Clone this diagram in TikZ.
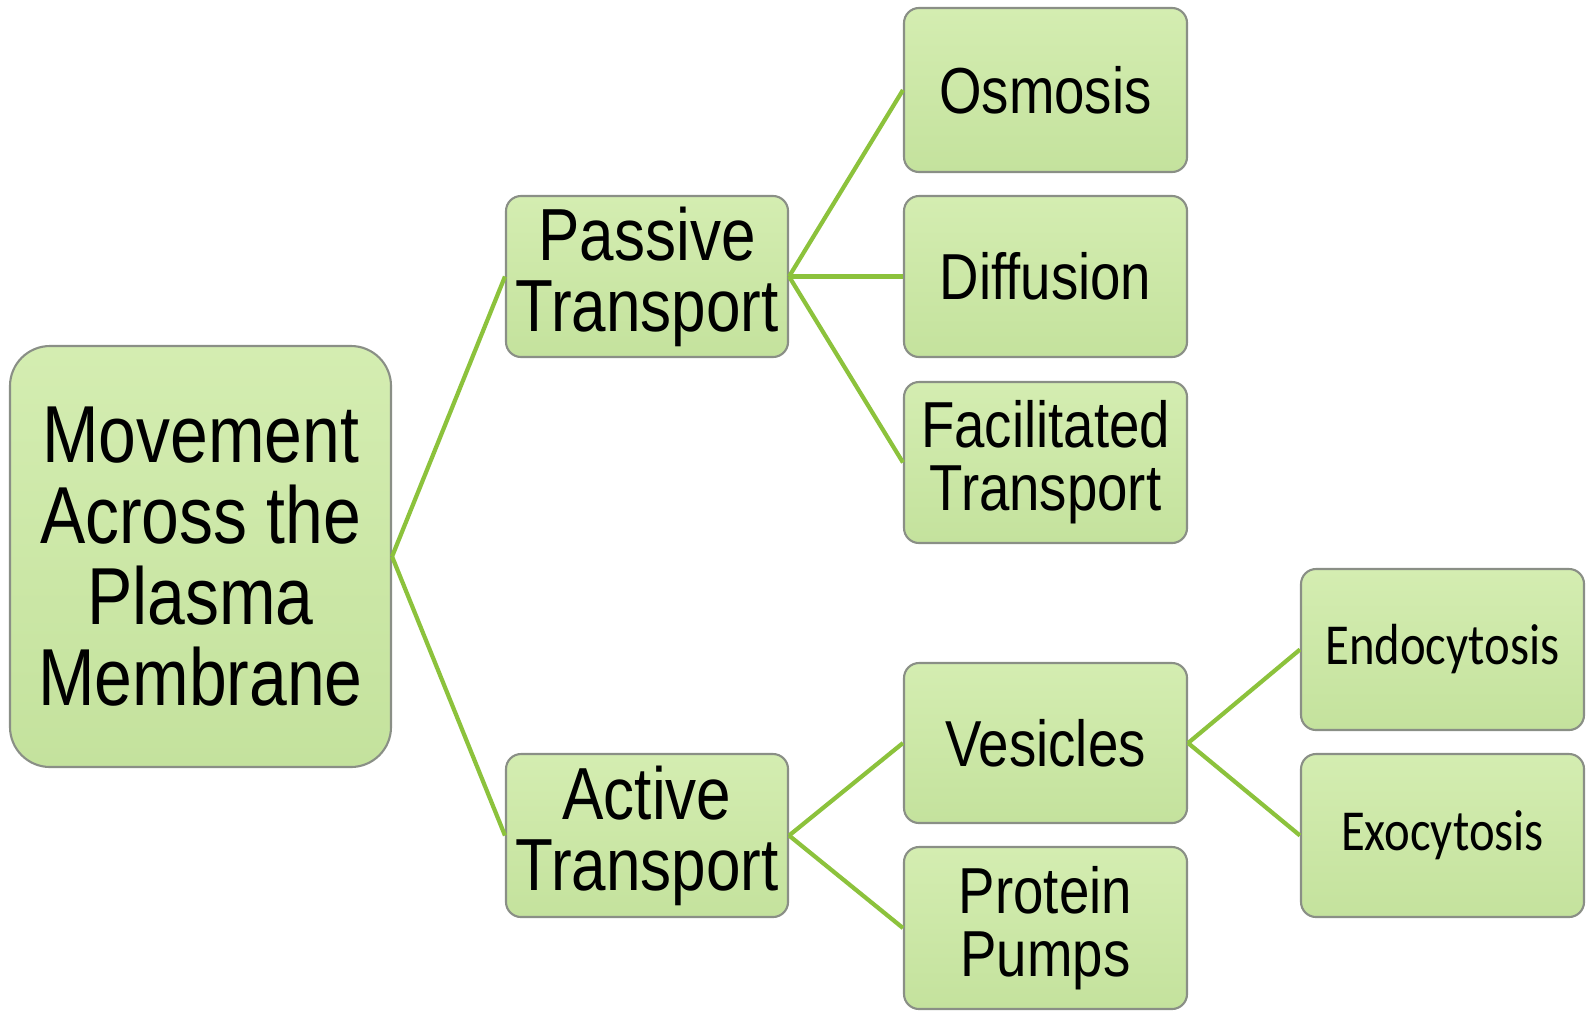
\documentclass[tikz,border=0pt]{standalone}
\usepackage{fontspec}
\setmainfont[FakeStretch=0.84]{Liberation Sans}
\newfontfamily\calibfont[FakeStretch=0.84]{Carlito}
\definecolor{boxtop}{HTML}{D4EDB1}
\definecolor{boxbot}{HTML}{C4E29D}
\definecolor{boxline}{HTML}{8A8F86}
\definecolor{linkgreen}{HTML}{8CC23C}
\begin{document}
\begin{tikzpicture}[
  box/.style={draw=boxline,line width=0.6pt,top color=boxtop,bottom color=boxbot,
    rounded corners=0.15cm,align=center,inner sep=0pt,
    minimum width=2.83cm,minimum height=1.61cm},
  rootbox/.style={box,rounded corners=0.4cm,minimum width=3.81cm,minimum height=4.21cm,
    font=\fontsize{23}{23}\selectfont},
  midbox/.style={box,minimum width=2.82cm,font=\fontsize{21}{20.2}\selectfont},
  leafbox/.style={box,font=\fontsize{18.5}{18}\selectfont},
  calbox/.style={box,font=\calibfont\fontsize{16.5}{16}\selectfont},
  link/.style={draw=linkgreen,line width=1.2pt}]
\useasboundingbox (0,0) rectangle (15.89,-10.10);
% ---------- root ----------
\node[rootbox] (move) at (2.005,-5.565) {Movement\\Across the\\Plasma\\Membrane};
% ---------- second level ----------
\node[midbox] (passive) at (6.47,-2.765) {Passive\\Transport};
\node[midbox,minimum height=1.63cm] (active) at (6.47,-8.355) {Active\\Transport};
% ---------- third level ----------
\node[leafbox,minimum height=1.64cm] (osmosis) at (10.455,-0.90) {Osmosis};
\node[leafbox] (diffusion) at (10.455,-2.765) {Diffusion};
\node[leafbox] (facil) at (10.455,-4.625) {Facilitated\\Transport};
\node[leafbox,minimum height=1.60cm] (vesicles) at (10.455,-7.43) {Vesicles};
\node[leafbox,minimum height=1.62cm] (pumps) at (10.455,-9.28) {Protein\\Pumps};
% ---------- fourth level ----------
\node[calbox] (endo) at (14.425,-6.495) {Endocytosis};
\node[calbox,minimum height=1.63cm] (exo) at (14.425,-8.355) {Exocytosis};
% ---------- connectors ----------
\draw[link] (move.east) -- (passive.west);
\draw[link] (move.east) -- (active.west);
\draw[link] (passive.east) -- (osmosis.west);
\draw[link] (passive.east) -- (diffusion.west);
\draw[link] (passive.east) -- (facil.west);
\draw[link] (active.east) -- (vesicles.west);
\draw[link] (active.east) -- (pumps.west);
\draw[link] (vesicles.east) -- (endo.west);
\draw[link] (vesicles.east) -- (exo.west);
\end{tikzpicture}
\end{document}
